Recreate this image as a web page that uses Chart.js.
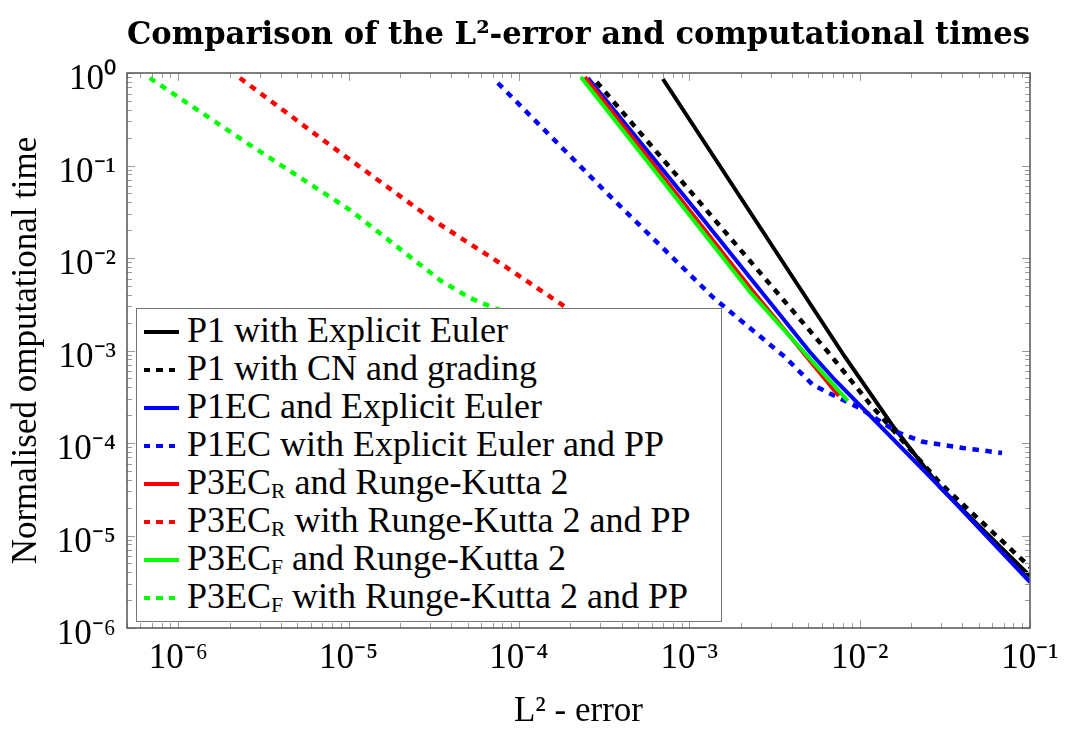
<!DOCTYPE html>
<html>
<head>
<meta charset="utf-8">
<script src="https://cdn.jsdelivr.net/npm/chart.js@4.4.1/dist/chart.umd.min.js"></script>
<style>
  html, body { margin: 0; padding: 0; background: #fff; }
  #wrap { position: relative; width: 1075px; height: 733px; }
  #legend {
    position: absolute; left: 136px; top: 308px; width: 586px; height: 314px;
    box-sizing: border-box; border: 1px solid #777; background: #fff; padding-top: 4px;
    font-family: "Liberation Serif", serif; font-size: 36px; color: #000;
  }
  .row { height: 38px; display: flex; align-items: center; white-space: nowrap; }
  .swatch { width: 35px; height: 4px; margin-left: 7px; margin-right: 8px; flex: none; }
  .txt { position: relative; top: -2px; }
  sub { font-size: 0.6em; vertical-align: -0.17em; line-height: 0; }
</style>
</head>
<body>
<div id="wrap">
  <canvas id="chart" width="1075" height="733"></canvas>
  <div id="legend"></div>
</div>
<script>
const seriesLabels = [
  'P1 with Explicit Euler',
  'P1 with CN and grading',
  'P1EC and Explicit Euler',
  'P1EC with Explicit Euler and PP',
  'P3EC_R and Runge-Kutta 2',
  'P3EC_R with Runge-Kutta 2 and PP',
  'P3EC_F and Runge-Kutta 2',
  'P3EC_F with Runge-Kutta 2 and PP'
];
const seriesColors = ['#000000', '#000000', '#0000ff', '#0000ff', '#ff0000', '#ff0000', '#00ff00', '#00ff00'];
const seriesDotted = [false, true, false, true, false, true, false, true];

// L2 error (x) and normalised computational time (y)
const p1EulerErr  = [7.0e-4, 8.20e-3, 1.55e-2, 2.96e-2, 5.45e-2, 1.0e-1];
const p1EulerTime = [0.861, 8.51e-4, 1.57e-4, 3.34e-5, 1.09e-5, 3.65e-6];
const p1CnErr  = [2.86e-4, 6.52e-3, 1.15e-2, 1.73e-2, 2.96e-2, 1.0e-1];
const p1CnTime = [0.799, 9.63e-4, 2.64e-4, 1.13e-4, 3.70e-5, 4.56e-6];
const p1ecErr  = [2.54e-4, 1.15e-3, 5.10e-3, 7.16e-3, 3.21e-2, 1.0e-1];
const p1ecTime = [0.883, 2.92e-2, 9.63e-4, 4.80e-4, 2.88e-5, 3.14e-6];
const p1ecPpErr  = [7.52e-5, 3.28e-4, 1.39e-3, 3.64e-3, 5.32e-3, 7.36e-3, 1.00e-2, 1.66e-2, 2.35e-2, 4.05e-2, 6.85e-2];
const p1ecPpTime = [0.780, 5.04e-2, 3.70e-3, 8.51e-4, 4.24e-4, 3.14e-4, 2.39e-4, 1.31e-4, 1.03e-4, 8.83e-5, 7.80e-5];
const p3ecRErr  = [2.44e-4, 2.33e-3, 7.55e-3];
const p3ecRTime = [0.905, 4.51e-3, 3.22e-4];
const p3ecRPpErr  = [2.30e-6, 8.07e-6, 3.12e-5, 7.73e-5, 1.91e-4, 2.99e-4];
const p3ecRPpTime = [0.883, 0.158, 2.58e-2, 8.83e-3, 2.88e-3, 1.67e-3];
const p3ecFErr  = [2.31e-4, 2.27e-3, 8.53e-3];
const p3ecFTime = [0.905, 4.29e-3, 2.85e-4];
const p3ecFPpErr  = [6.8e-7, 2.63e-6, 1.02e-5, 3.43e-5, 5.15e-5, 7.41e-5, 1.3e-4];
const p3ecFPpTime = [0.883, 0.167, 3.3e-2, 5.78e-3, 3.70e-3, 2.81e-3, 2.0e-3];

const xTickValues = [1e-6, 1e-5, 1e-4, 1e-3, 1e-2, 1e-1];
const xTickLabels = ['10⁻⁶', '10⁻⁵', '10⁻⁴', '10⁻³', '10⁻²', '10⁻¹'];
const yTickValues = [1e-6, 1e-5, 1e-4, 1e-3, 1e-2, 1e-1, 1];
const yTickLabels = ['10⁻⁶', '10⁻⁵', '10⁻⁴', '10⁻³', '10⁻²', '10⁻¹', '10⁰'];

const errSeries = [p1EulerErr, p1CnErr, p1ecErr, p1ecPpErr, p3ecRErr, p3ecRPpErr, p3ecFErr, p3ecFPpErr];
const timeSeries = [p1EulerTime, p1CnTime, p1ecTime, p1ecPpTime, p3ecRTime, p3ecRPpTime, p3ecFTime, p3ecFPpTime];

const serif = 'Liberation Serif';

// inward tick marks on all four sides + the axis frame
const frameTicks = {
  id: 'frameTicks',
  afterDatasetsDraw(chart) {
    const { ctx, chartArea: a, scales: { x, y } } = chart;
    const marks = (scale) => {
      const out = [];
      const e0 = Math.floor(Math.log10(scale.min)), e1 = Math.ceil(Math.log10(scale.max));
      for (let e = e0; e <= e1; e++) {
        for (let m = 1; m < 10; m++) {
          const v = m * Math.pow(10, e);
          if (v >= scale.min * 0.999 && v <= scale.max * 1.001) out.push({ v, major: m === 1 });
        }
      }
      return out;
    };
    ctx.save();
    ctx.strokeStyle = '#9a9a9a';
    ctx.lineWidth = 1;
    ctx.beginPath();
    marks(x).forEach(({ v, major }) => {
      const px = Math.round(x.getPixelForValue(v)) + 0.5;
      const len = major ? 8 : 5;
      ctx.moveTo(px, a.bottom); ctx.lineTo(px, a.bottom - len);
      ctx.moveTo(px, a.top); ctx.lineTo(px, a.top + len);
    });
    marks(y).forEach(({ v, major }) => {
      const py = Math.round(y.getPixelForValue(v)) + 0.5;
      const len = major ? 8 : 5;
      ctx.moveTo(a.left, py); ctx.lineTo(a.left + len, py);
      ctx.moveTo(a.right, py); ctx.lineTo(a.right - len, py);
    });
    ctx.stroke();
    ctx.strokeStyle = '#555';
    ctx.lineWidth = 1.5;
    ctx.strokeRect(a.left, a.top, a.right - a.left, a.bottom - a.top);
    ctx.restore();
  }
};

const ctx = document.getElementById('chart').getContext('2d');
const chart = new Chart(ctx, {
  type: 'scatter',
  data: {
    datasets: seriesLabels.map((label, i) => ({
      label: label,
      data: errSeries[i].map((x, k) => ({ x: x, y: timeSeries[i][k] })),
      borderColor: seriesColors[i],
      backgroundColor: seriesColors[i],
      borderWidth: seriesDotted[i] ? 4.5 : 4,
      borderDash: seriesDotted[i] ? [6.5, 6.5] : [],
      showLine: true,
      pointRadius: 0,
      tension: 0,
      order: -i
    }))
  },
  options: {
    responsive: false,
    animation: false,
    layout: { padding: { left: 0, right: 45, top: 0, bottom: 0 } },
    plugins: {
      legend: { display: false },
      tooltip: { enabled: false },
      title: {
        display: true,
        fullSize: false,
        text: 'Comparison of the L²-error and computational times',
        color: '#000',
        font: { family: 'DejaVu Serif', size: 32, weight: 'bold' },
        padding: { top: 16, bottom: 18.6 }
      }
    },
    scales: {
      x: {
        type: 'logarithmic',
        min: 5e-7,
        max: 0.1,
        grid: { display: false, drawTicks: false },
        border: { display: false },
        afterBuildTicks: (s) => { s.ticks = xTickValues.map(v => ({ value: v })); },
        afterFit: (s) => { s.height = 105; },
        ticks: {
          autoSkip: false, maxRotation: 0, padding: 10, color: '#000',
          font: { family: serif, size: 35 },
          callback: (v, i) => xTickLabels[i]
        },
        title: {
          display: true, text: 'L² - error', color: '#000',
          font: { family: serif, size: 35 },
          padding: { top: 0, bottom: 0 }
        }
      },
      y: {
        type: 'logarithmic',
        min: 1e-6,
        max: 1,
        grid: { display: false, drawTicks: false },
        border: { display: false },
        afterBuildTicks: (s) => { s.ticks = yTickValues.map(v => ({ value: v })); },
        afterFit: (s) => { s.width = 127; },
        ticks: {
          autoSkip: false, padding: 11, labelOffset: 7, color: '#000',
          font: { family: serif, size: 35 },
          callback: (v, i) => yTickLabels[i]
        },
        title: {
          display: true, text: 'Normalised omputational time', color: '#000',
          font: { family: serif, size: 35 },
          padding: { top: 6, bottom: 0 }
        }
      }
    }
  },
  plugins: [frameTicks]
});

// legend with subscripts as html text
const legendEl = document.getElementById('legend');
seriesLabels.forEach((label, i) => {
  const row = document.createElement('div');
  row.className = 'row';
  const sw = document.createElement('div');
  sw.className = 'swatch';
  const c = seriesColors[i];
  sw.style.background = seriesDotted[i]
    ? 'repeating-linear-gradient(90deg, ' + c + ' 0 6.5px, transparent 6.5px 12.5px)'
    : c;
  const txt = document.createElement('span');
  txt.className = 'txt';
  txt.innerHTML = label.replace(/_(\w)/, '<sub>$1</sub>');
  row.appendChild(sw);
  row.appendChild(txt);
  legendEl.appendChild(row);
});
</script>
</body>
</html>
